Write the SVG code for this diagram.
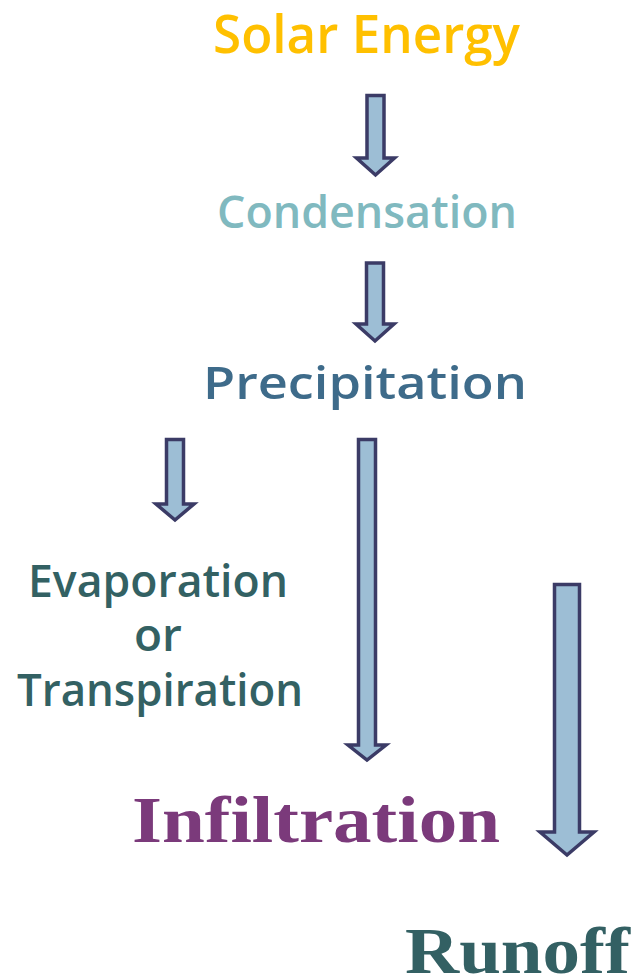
<svg xmlns="http://www.w3.org/2000/svg" width="640" height="979" viewBox="0 0 640 979">
<style>
.arr{fill:#9DBED5;stroke:#3B3B66;stroke-width:3.5;stroke-linejoin:miter}
.sans{font-family:"Open Sans","Noto Sans","DejaVu Sans",sans-serif;font-weight:600}
.serif{font-family:"Liberation Serif","DejaVu Serif",serif;font-weight:bold}
</style>
<rect width="640" height="979" fill="#FFFFFF"/>
<g id="connectors">
<path class="arr" d="M367 95.5 H384 V158 H394.5 L375.5 175 L356.5 158 H367 Z"/>
<path class="arr" d="M366.5 263 H383.5 V324 H394 L375 341 L356 324 H366.5 Z"/>
<path class="arr" d="M166.5 439.5 H183.5 V504 H194 L175 520 L156 504 H166.5 Z"/>
<path class="arr" d="M358.5 439.5 H375.5 V745 H386 L367 760 L348 745 H358.5 Z"/>
<path class="arr" d="M554.5 584.5 H579.5 V832 H594 L567 855 L540 832 H554.5 Z"/>
</g>
<g id="solar"><text class="sans" x="213" y="53" font-size="52" fill="#FFC000" textLength="307" lengthAdjust="spacingAndGlyphs">Solar Energy</text></g>
<g id="condensation"><text class="sans" x="217" y="228" font-size="46" fill="#80B9BF" textLength="300" lengthAdjust="spacingAndGlyphs">Condensation</text></g>
<g id="precipitation"><text class="sans" x="203" y="399" font-size="46" fill="#3E6B8A" textLength="324" lengthAdjust="spacingAndGlyphs">Precipitation</text></g>
<g id="evaporation">
<text class="sans" x="158" y="597" font-size="46" fill="#336163" text-anchor="middle" textLength="260" lengthAdjust="spacingAndGlyphs">Evaporation</text>
<text class="sans" x="158" y="651" font-size="46" fill="#336163" text-anchor="middle">or</text>
<text class="sans" x="160" y="706" font-size="46" fill="#336163" text-anchor="middle" textLength="286" lengthAdjust="spacingAndGlyphs">Transpiration</text>
</g>
<g id="infiltration"><text class="serif" x="132" y="842" font-size="66" fill="#7B3A7B" textLength="368" lengthAdjust="spacingAndGlyphs">Infiltration</text></g>
<g id="runoff"><text class="serif" x="405" y="973" font-size="66" fill="#336063" textLength="225" lengthAdjust="spacingAndGlyphs">Runoff</text></g>
</svg>
